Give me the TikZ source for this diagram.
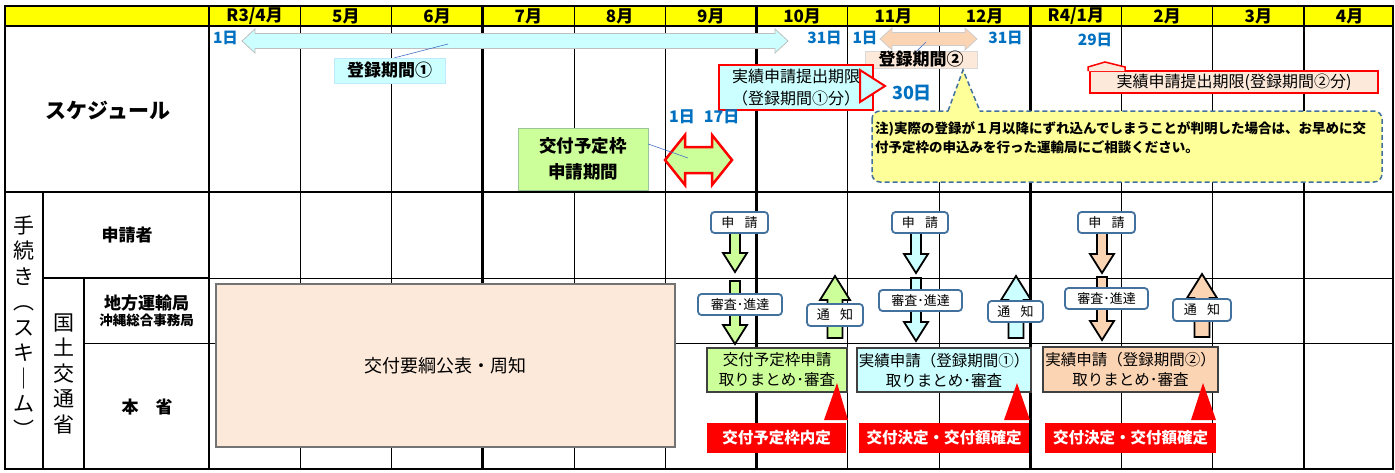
\documentclass[tikz,border=0pt]{standalone}
\usepackage{fontspec}
\setmainfont{Noto Sans CJK JP}
\definecolor{hdryellow}{HTML}{FFFF00}
\definecolor{regcyan}{HTML}{CCFFFF}
\definecolor{regpeach}{HTML}{FBD4B4}
\definecolor{palepeach}{HTML}{FDE9D9}
\definecolor{appgreen}{HTML}{CCFF99}
\definecolor{dayblue}{HTML}{0070C0}
\definecolor{tagblue}{HTML}{41719C}
\definecolor{notebg}{HTML}{FFFF99}
\definecolor{leadblue}{HTML}{4472C4}
\tikzset{
  lbl/.style = {inner sep=0pt, align=center},
  hdr/.style = {lbl, font=\bfseries\fontsize{17}{17}\selectfont},
  rowname/.style = {lbl, font=\bfseries\fontsize{17}{20}\selectfont},
  vlab/.style = {lbl, font=\fontsize{21}{25.5}\selectfont},
  day/.style = {lbl, text=dayblue, font=\bfseries\fontsize{15.5}{15.5}\selectfont},
  periodtag/.style = {lbl, font=\bfseries\fontsize{17}{17}\selectfont},
  limitbox/.style = {lbl, draw=red, line width=2pt, font=\fontsize{16}{22}\selectfont},
  steptag/.style = {lbl, draw=tagblue, fill=white, line width=1.8pt,
    rounded corners=3.5pt, font=\fontsize{13}{13}\selectfont},
  sumbox/.style = {lbl, draw=black!75, line width=1.2pt,
    font=\fontsize{15.5}{20}\selectfont},
  decision/.style = {lbl, fill=red, text=white,
    font=\bfseries\fontsize{15.5}{15.5}\selectfont},
  notebox/.style = {draw=tagblue, fill=notebg, line width=1.5pt,
    dash pattern=on 5pt off 3pt},
  leader/.style = {leadblue, line width=0.6pt},
  blockarr/.style = {draw=black, line width=1.8pt},
  gridthin/.style = {line width=0.9pt},
  gridthick/.style = {line width=2.6pt}
}
% block arrows: x, tail y, tip y, fill
\newcommand\dnarr[4]{%
  \filldraw[blockarr, fill=#4] ({#1-5},#2) -- ({#1+5},#2) -- ({#1+5},{#3-19})
    -- ({#1+12},{#3-19}) -- (#1,#3) -- ({#1-12},{#3-19}) -- ({#1-5},{#3-19}) -- cycle;}
\newcommand\uparr[4]{%
  \filldraw[blockarr, fill=#4] ({#1-7.5},#2) -- ({#1+7.5},#2) -- ({#1+7.5},{#3+24})
    -- ({#1+15},{#3+24}) -- (#1,#3) -- ({#1-15},{#3+24}) -- ({#1-7.5},{#3+24}) -- cycle;}
% double arrow: x1, x2, y, head length, head half, shaft half, style
\newcommand\dblarr[7]{%
  \filldraw[#7] (#1,#3) -- ({#1+#4},{#3-#5}) -- ({#1+#4},{#3-#6}) -- ({#2-#4},{#3-#6})
    -- ({#2-#4},{#3-#5}) -- (#2,#3) -- ({#2-#4},{#3+#5}) -- ({#2-#4},{#3+#6})
    -- ({#1+#4},{#3+#6}) -- ({#1+#4},{#3+#5}) -- cycle;}

\begin{document}
\begin{tikzpicture}[x=1pt, y=-1pt]
\useasboundingbox (0,0) rectangle (1395,472);

% grid
\fill[hdryellow] (5,6) rectangle (1393,26);
\foreach \i in {1,2,4,5,7,8,10,11}
  \draw[gridthin] ({209+91.25*\i},6) -- ({209+91.25*\i},469);
\foreach \i in {0,3,6,9,12}
  \draw[gridthick] ({209+91.25*\i},6) -- ({209+91.25*\i},469);
\draw[gridthin] (209,278) -- (1393,278);
\draw[gridthin] (84,343) -- (1393,343);
\draw[line width=2pt] (43,278) -- (209,278);
\draw[line width=2pt] (43,192) -- (43,469);
\draw[line width=2pt] (84,278) -- (84,469);
\draw[gridthick] (5,26) -- (1393,26);
\draw[gridthick] (5,192) -- (1393,192);
\draw[gridthick] (5,6) rectangle (1393,469);

% months
\foreach \m [count=\i from 0] in {R3/4月,5月,6月,7月,8月,9月,10月,11月,12月,R4/1月,2月,3月,4月}
  \node[hdr] (m\i) at ({209+91.25*(\i+0.5)},16) {\m};

% row names
\node[rowname, font=\bfseries\fontsize{21}{21}\selectfont] (sched) at (108,110) {スケジュール};
\node[vlab] (proc) at (24,326.5) {手\\続\\き\\︵\\ス\\キ\\｜\\ム\\︶};
\node[vlab] (mlit) at (63.5,373.5) {国\\土\\交\\通\\省};
\node[rowname] (appl) at (127,235) {申請者};
\node[rowname] (bureau) at (146.5,303) {地方運輸局};
\node[lbl, font=\bfseries\fontsize{13.5}{13.5}\selectfont] (okinawa) at (146.5,320) {沖縄総合事務局};
\node[rowname] (hq) at (147,407) {本\hspace{1em}省};

% schedule: registration periods
\dblarr{242}{788}{41}{13}{12}{7.5}{fill=regcyan, draw=black!25, line width=0.8pt}
\dblarr{880}{977}{39}{12}{11}{6.5}{fill=regpeach, draw=black!20, line width=0.8pt}
\coordinate (reg1pt) at (448,44);
\coordinate (reg2pt) at (926,42);
\node[periodtag, fill=regcyan, draw=cyan!25, minimum width=111pt, minimum height=25pt]
  (reg1) at (389.5,70.5) {登録期間①};
\node[periodtag, fill=palepeach, draw=black!15, minimum width=112pt, minimum height=17pt]
  (reg2) at (921,59.5) {登録期間②};
\draw[leader] ([xshift=5pt]reg1.north) -- (reg1pt);
\draw[leader] ([xshift=-4pt]reg2.north) -- (reg2pt);
\node[day] (d1) at (225.5,38) {1日};
\node[day] (d2) at (824.5,38) {31日};
\node[day] (d3) at (865,38) {1日};
\node[day] (d4) at (1005.5,38) {31日};
\node[day] (d5) at (1095,40) {29日};

% schedule: deadlines
\node[limitbox, fill=regcyan, minimum width=154pt, minimum height=45pt]
  (lim1) at (796,87.5) {実績申請提出期限\\（登録期間①分）};
\filldraw[fill=regcyan, draw=red, line width=2pt] (860,70) -- (885,86) -- (860,102) -- cycle;
\node[day, font=\bfseries\fontsize{18}{18}\selectfont] (d6) at (912,93) {30日};
\node[limitbox, fill=palepeach, minimum width=288pt, minimum height=22pt]
  (lim2) at (1234,82) {実績申請提出期限(登録期間②分)};
\filldraw[fill=palepeach, draw=red, line width=1.5pt]
  (1088,71) -- (1088,67) -- (1105,62) -- (1125,67) -- (1125,71);

% schedule: application window
\dblarr{665}{732}{160}{20}{25}{13}{fill=appgreen, draw=red, line width=2.5pt}
\coordinate (winpt) at (688,158);
\node[periodtag, fill=appgreen, draw=green!45!black!40, minimum width=130pt, minimum height=62pt,
  font=\bfseries\fontsize{17.5}{26}\selectfont] (window) at (583,159) {交付予定枠\\申請期間};
\draw[leader] ([yshift=15pt]window.east) -- (winpt);
\node[day, font=\bfseries\fontsize{16}{16}\selectfont] (d7) at (682,117) {1日};
\node[day, font=\bfseries\fontsize{16}{16}\selectfont] (d8) at (721.5,117) {17日};

% note
\filldraw[notebox, rounded corners=8pt] (872,111) rectangle (1382,182);
\fill[notebg] (948,112.5) -- (963,70) -- (980,112.5) -- cycle;
\draw[notebox, fill=none] (948,111) -- (963,70) -- (980,111);
\node[lbl, align=left, anchor=west, font=\bfseries\fontsize{13.5}{19}\selectfont] (note) at (875,137.5)
  {注)実際の登録が１月以降にずれ込んでしまうことが判明した場合は、お早めに交\\付予定枠の申込みを行った運輸局にご相談ください。};

% procedures
\node[lbl, fill=palepeach, draw=black!55, line width=1.3pt, minimum width=459pt, minimum height=163pt,
  font=\fontsize{18}{18}\selectfont] (notice) at (445.5,365.5) {交付要綱公表・周知};

% group 1: allocation
\dnarr{735}{232}{272}{appgreen}
\dnarr{735}{281}{344}{appgreen}
\uparr{835}{338}{276}{appgreen}
\node[steptag, minimum width=57pt, minimum height=21pt] (ap1) at (739.5,222.5) {申\hspace{0.8em}請};
\node[steptag, minimum width=84pt, minimum height=21pt] (rv1) at (740,304.5) {審査･進達};
\node[steptag, minimum width=56pt, minimum height=22pt] (nt1) at (835,315) {通\hspace{0.8em}知};
\node[sumbox, fill=appgreen, minimum width=140pt, minimum height=44pt]
  (sum1) at (777,370) {交付予定枠申請\\取りまとめ･審査};
\fill[red] (824,420) -- (837,383) -- (848,420) -- cycle;
\node[decision, minimum width=139pt, minimum height=30pt] (dec1) at (776.5,438) {交付予定枠内定};

% group 2: result 1
\dnarr{916}{232}{273}{regcyan}
\dnarr{916}{278}{341}{regcyan}
\uparr{1016}{338}{276}{regcyan}
\node[steptag, minimum width=56pt, minimum height=21pt] (ap2) at (920,222.5) {申\hspace{0.8em}請};
\node[steptag, minimum width=83pt, minimum height=21pt] (rv2) at (920.5,300.5) {審査･進達};
\node[steptag, minimum width=55pt, minimum height=21pt] (nt2) at (1015.5,311.5) {通\hspace{0.8em}知};
\node[sumbox, fill=regcyan, minimum width=174pt, minimum height=44pt]
  (sum2) at (944,370) {実績申請（登録期間①）\\取りまとめ･審査};
\fill[red] (1004,420) -- (1017,383) -- (1030,420) -- cycle;
\node[decision, minimum width=170pt, minimum height=30pt] (dec2) at (944,438) {交付決定・交付額確定};

% group 3: result 2
\dnarr{1102}{232}{273}{regpeach}
\dnarr{1102}{277}{340}{regpeach}
\uparr{1202}{337}{274}{regpeach}
\node[steptag, minimum width=57pt, minimum height=21pt] (ap3) at (1106.5,222.5) {申\hspace{0.8em}請};
\node[steptag, minimum width=83pt, minimum height=21pt] (rv3) at (1106.5,298.5) {審査･進達};
\node[steptag, minimum width=58pt, minimum height=22pt] (nt3) at (1202,310) {通\hspace{0.8em}知};
\node[sumbox, fill=regpeach, minimum width=175pt, minimum height=45pt]
  (sum3) at (1130.5,369.5) {実績申請（登録期間②）\\取りまとめ･審査};
\fill[red] (1191,420) -- (1203,383) -- (1216,420) -- cycle;
\node[decision, minimum width=171pt, minimum height=30pt] (dec3) at (1130.5,438) {交付決定・交付額確定};
\end{tikzpicture}
\end{document}
